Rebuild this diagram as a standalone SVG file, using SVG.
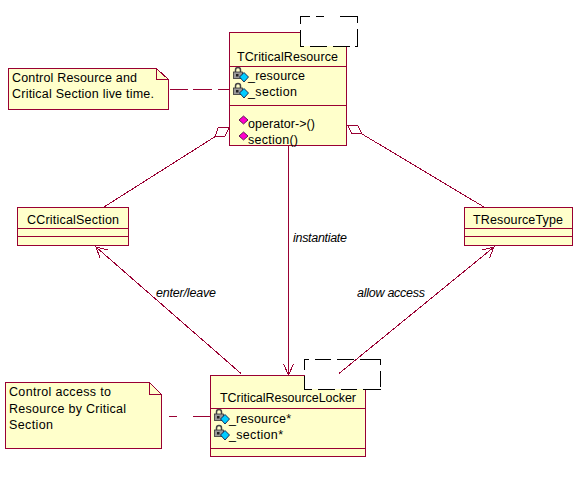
<svg xmlns="http://www.w3.org/2000/svg" width="580" height="483" viewBox="0 0 580 483">
<style>
text{font-family:"Liberation Sans",Arial,sans-serif;font-size:12.5px;fill:#000}
.i{font-style:italic}
.b{fill:#ffffcb;stroke:#990033;stroke-width:1;shape-rendering:crispEdges}
.s{fill:none;stroke:#990033;stroke-width:1;shape-rendering:crispEdges}
.d{fill:none;stroke:#000;stroke-width:1;shape-rendering:crispEdges}
.w{fill:#fff}
.c{fill:none;stroke:#990033;stroke-width:1;shape-rendering:crispEdges}
</style>
<defs>
<g id="lockA">
<path d="M2.500 5V3a2.500 2.500 0 0 1 5 0V5" fill="none" stroke="#444" stroke-width="1.500"/>
<rect x="0.500" y="5" width="9" height="6.500" fill="#999" stroke="#333" stroke-width="0.800"/>
<rect x="3" y="7" width="2.500" height="2.500" fill="#222"/>
<path d="M11 5.500l4.500 4.500-4.500 5-4.500-5z" fill="#00ccff" stroke="#003" stroke-width="0.800"/>
</g>
<path id="op" d="M4.500 0l4.500 4-4.500 4-4.500-4z" fill="#ff00cc" stroke="#303" stroke-width="0.800"/>
</defs>
<g id="TCriticalResource">
<rect class="b" x="229.500" y="32.500" width="117" height="113"/>
<rect class="w" x="300" y="16" width="58" height="30"/>
<path class="d" d="M300.500 24V16.500H310M316 16.500H324M340 16.500H357.500V23M357.500 29V46.500H355M350 46.500H333M327 46.500H310M304 46.500H300.500V30"/>
<path class="s" d="M229.500 66.500H346.500M229.500 105.500H346.500"/>
<text x="237" y="61" textLength="101">TCriticalResource</text>
<use href="#lockA" x="233" y="67"/><text x="248" y="80" textLength="57">_resource</text>
<use href="#lockA" x="233" y="83"/><text x="248" y="96" textLength="49">_section</text>
<use href="#op" x="239" y="116"/><text x="248" y="128" textLength="67">operator-&gt;()</text>
<use href="#op" x="239" y="132"/><text x="248" y="144" textLength="50">section()</text>
</g>
<g id="TCriticalResourceLocker">
<rect class="b" x="210.500" y="375.500" width="154.500" height="81"/>
<rect class="w" x="305" y="359" width="76" height="30"/>
<path class="d" d="M305 359.500H309M315 359.500H331M337 359.500H354M360 359.500H380.500V365M380.500 371V387M380.500 389.500H363M357 389.500H341M335 389.500H318M312 389.500H304.500V376M304.500 370V359"/>
<path class="s" d="M210.500 408.500H365M210.500 448.500H365"/>
<text x="220" y="402" textLength="136">TCriticalResourceLocker</text>
<use href="#lockA" x="214" y="409"/><text x="229" y="423" textLength="62">_resource*</text>
<use href="#lockA" x="214" y="425"/><text x="229" y="439" textLength="54">_section*</text>
</g>
<g id="CCriticalSection">
<rect class="b" x="17.500" y="207.500" width="111" height="38"/>
<path class="s" d="M17.500 228.500H128.500M17.500 236.500H128.500"/>
<text x="27" y="224" textLength="92">CCriticalSection</text>
</g>
<g id="TResourceType">
<rect class="b" x="464.500" y="207.500" width="108" height="38"/>
<path class="s" d="M464.500 228.500H572.500M464.500 236.500H572.500"/>
<text x="473" y="224" textLength="90">TResourceType</text>
</g>
<g id="note1">
<path class="b" d="M8.500 68.500H156.500L168.500 79.500V109.500H8.500Z"/>
<path class="s" d="M156.500 68.500V79.500H168.500"/>
<text x="12" y="82" textLength="125">Control Resource and</text>
<text x="12" y="98" textLength="142">Critical Section live time.</text>
</g>
<g id="note2">
<path class="b" d="M5.500 382.500H149.500L161.500 394.500V448.500H5.500Z"/>
<path class="s" d="M149.500 382.500V394.500H161.500"/>
<text x="9" y="396" textLength="102">Control access to</text>
<text x="9" y="413" textLength="117">Resource by Critical</text>
<text x="9" y="429" textLength="44">Section</text>
</g>
<g id="connectors">
<path class="c" d="M170 89.500H188M193 89.500H212M218 89.500H229"/>
<path class="c" d="M169 416.500H177M193 416.500H210"/>
<path class="c" d="M104 207L215 136.700L225 136L229 127.700L218 128L215 136.700"/>
<path class="c" d="M484 207L362 134L351.700 133.300L347.700 125.700L357.700 125.700L362 134"/>
<path class="c" d="M288.500 146V375M283.500 364L288.500 375L293.500 364"/>
<path class="c" d="M241 373.500L96 247M100 258L96 247L107.500 250"/>
<path class="c" d="M339 373.500L494 247M482.500 250L494 247L489.500 258"/>
</g>
<text class="i" x="293" y="242" textLength="54">instantiate</text>
<text class="i" x="156" y="297" textLength="60">enter/leave</text>
<text class="i" x="357" y="297" textLength="68">allow access</text>
</svg>
